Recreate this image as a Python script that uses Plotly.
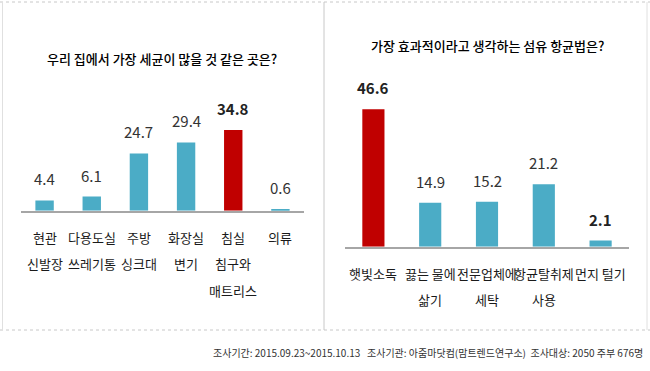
import plotly.graph_objects as go

W, H = 650, 371

left_title = "우리 집에서 가장 세균이 많을 것 같은 곳은?"
left_cats = ["현관<br>신발장", "다용도실<br>쓰레기통", "주방<br>싱크대", "화장실<br>변기", "침실<br>침구와<br>매트리스", "의류"]
left_vals = [4.4, 6.1, 24.7, 29.4, 34.8, 0.6]
left_highlight = [False, False, False, False, True, False]
left_bold = [False, False, False, False, True, False]

right_title = "가장 효과적이라고 생각하는 섬유 항균법은?"
right_cats = ["햇빛소독", "끓는 물에<br>삶기", "전문업체에<br>세탁", "항균탈취제<br>사용", "먼지 털기"]
right_vals = [46.6, 14.9, 15.2, 21.2, 2.1]
right_highlight = [True, False, False, False, False]
right_bold = [True, False, False, False, True]

footer = "조사기간: 2015.09.23~2015.10.13   조사기관: 아줌마닷컴(맘트렌드연구소)  조사대상: 2050 주부 676명"

BLUE = "#4bacc6"
RED = "#c00000"
FONT = "Noto Sans CJK KR"
NUMFONT = "Noto Sans CJK KR"


def px(x):
    return x / W


def py(y):
    return 1 - y / H


fig = go.Figure()


def add_panel(cats, vals, hl, bold, xa, ya):
    idx = list(range(len(cats)))
    fig.add_trace(go.Bar(
        x=idx, y=vals, width=0.39,
        marker=dict(color=[RED if h else BLUE for h in hl], line=dict(width=0)),
        xaxis=xa, yaxis=ya, showlegend=False, hoverinfo="skip",
    ))
    for i, (v, b) in enumerate(zip(vals, bold)):
        fig.add_annotation(
            x=i, y=v, xref=xa, yref=ya, text=f"<b>{v}</b>" if b else f"{v}",
            showarrow=False, xanchor="center", yanchor="bottom", yshift=9,
            font=dict(family=NUMFONT, size=15, color="#222" if b else "#333"),
        )
    for i, c in enumerate(cats):
        for j, line in enumerate(c.split("<br>")):
            fig.add_annotation(
                x=i, y=0, xref=xa, yref=ya, text=line, showarrow=False,
                xanchor="center", yanchor="middle", yshift=-(26.5 + j * 26.5),
                font=dict(family=FONT, size=13, color="#1a1a1a"),
            )


add_panel(left_cats, left_vals, left_highlight, left_bold, "x", "y")
add_panel(right_cats, right_vals, right_highlight, right_bold, "x2", "y2")

axis_common = dict(showgrid=False, zeroline=False, showticklabels=False, ticks="")
fig.update_layout(
    width=W, height=H,
    margin=dict(l=0, r=0, t=0, b=0),
    paper_bgcolor="white", plot_bgcolor="white",
    xaxis=dict(domain=[px(21), px(304)], range=[-0.5, 5.5], showline=True,
               linecolor="#a6a6a6", linewidth=2, anchor="y", **axis_common),
    yaxis=dict(domain=[py(210.7), py(117.9)], range=[0, 40], showline=False,
               anchor="x", **axis_common),
    xaxis2=dict(domain=[px(345), px(629)], range=[-0.5, 4.5], showline=True,
                linecolor="#a6a6a6", linewidth=2, anchor="y2", **axis_common),
    yaxis2=dict(domain=[py(246.7), py(99.2)], range=[0, 50], showline=False,
                anchor="x2", **axis_common),
)

fig.add_annotation(x=px(162), y=py(58), xref="paper", yref="paper", text=left_title,
                   showarrow=False, xanchor="center", yanchor="middle",
                   font=dict(family=FONT, size=13, color="#000", weight=500))
fig.add_annotation(x=px(487), y=py(46), xref="paper", yref="paper", text=right_title,
                   showarrow=False, xanchor="center", yanchor="middle",
                   font=dict(family=FONT, size=13, color="#000", weight=500))
fig.add_annotation(x=px(645), y=py(352), xref="paper", yref="paper", text=footer,
                   showarrow=False, xanchor="right", yanchor="middle",
                   font=dict(family=FONT, size=10, color="#333"))

line_col = "#c8c8c8"
fig.add_shape(type="line", xref="paper", yref="paper", x0=px(324), x1=px(324), y0=py(2), y1=py(330),
              line=dict(color=line_col, width=1))
fig.add_shape(type="line", xref="paper", yref="paper", x0=0, x1=1, y0=py(330), y1=py(330),
              line=dict(color=line_col, width=1, dash="dot"))
fig.add_shape(type="line", xref="paper", yref="paper", x0=0, x1=1, y0=py(2), y1=py(2),
              line=dict(color=line_col, width=1, dash="dot"))
fig.add_shape(type="line", xref="paper", yref="paper", x0=px(2.5), x1=px(2.5), y0=py(2), y1=py(330),
              line=dict(color="#e0e0e0", width=1))
fig.add_shape(type="line", xref="paper", yref="paper", x0=px(647), x1=px(647), y0=py(2), y1=py(330),
              line=dict(color="#e0e0e0", width=1))

fig.write_html("out.html", config={"displayModeBar": False},
               post_script="document.body.style.margin='0';")
